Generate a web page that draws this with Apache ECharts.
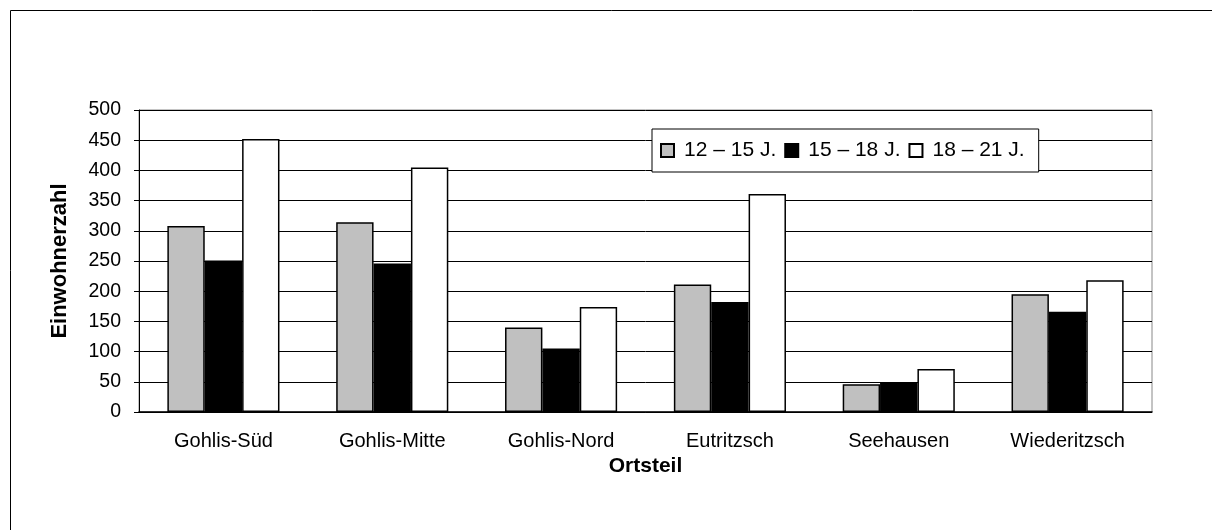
<!DOCTYPE html>
<html>
<head>
<meta charset="utf-8">
<script src="https://cdn.jsdelivr.net/npm/echarts@6/dist/echarts.min.js"></script>
<style>
  html, body { margin: 0; padding: 0; background: #fff; }
  #chart { width: 1212px; height: 530px; }
</style>
</head>
<body>
<div id="chart"></div>
<script>
var ortsteile = ['Gohlis-Süd', 'Gohlis-Mitte', 'Gohlis-Nord', 'Eutritzsch', 'Seehausen', 'Wiederitzsch'];
var alter12bis15 = [308, 314, 140, 211, 46, 195];
var alter15bis18 = [251, 246, 105, 182, 48, 166];
var alter18bis21 = [452, 405, 174, 361, 71, 218];
var serienNamen = ['12 – 15 J.', '15 – 18 J.', '18 – 21 J.'];

var chart = echarts.init(document.getElementById('chart'));
var schrift = 'Liberation Sans, Arial, sans-serif';

function balken(name, werte, farbe) {
    return {
        name: name,
        type: 'bar',
        data: werte,
        barGap: '0%',
        barCategoryGap: '33.6%',
        itemStyle: { color: farbe, borderColor: '#000', borderWidth: 1.5 },
        emphasis: { disabled: true }
    };
}

var option = {
    animation: false,
    textStyle: { fontFamily: schrift },
    graphic: [{
        type: 'rect',
        shape: { x: 10.5, y: 10.5, width: 1400, height: 800 },
        style: { fill: 'none', stroke: '#000', lineWidth: 1 },
        silent: true
    }],
    grid: {
        left: 139, top: 110, right: 60, bottom: 118,
        show: true, borderColor: '#888', borderWidth: 1,
        backgroundColor: 'transparent'
    },
    legend: {
        left: 652, top: 129,
        padding: [11, 14, 11, 8],
        itemGap: 8,
        itemWidth: 13, itemHeight: 13,
        icon: 'rect',
        borderColor: '#000', borderWidth: 1,
        backgroundColor: '#fff',
        textStyle: { fontSize: 21, color: '#000', fontFamily: schrift, padding: [0, 0, 0, 5] },
        data: serienNamen
    },
    xAxis: {
        type: 'category',
        data: ortsteile,
        name: 'Ortsteil',
        nameLocation: 'middle',
        nameGap: 39,
        nameTextStyle: { fontSize: 21, fontWeight: 'bold', color: '#000' },
        axisLine: { lineStyle: { color: '#000', width: 1.5 } },
        axisTick: { length: 5, lineStyle: { color: '#000' } },
        axisLabel: { fontSize: 20, color: '#000', margin: 19 }
    },
    yAxis: {
        type: 'value',
        min: 0, max: 500, interval: 50,
        name: 'Einwohnerzahl',
        nameLocation: 'middle',
        nameGap: 68,
        nameTextStyle: { fontSize: 22, fontWeight: 'bold', color: '#000' },
        axisLine: { show: true, lineStyle: { color: '#000', width: 1 } },
        axisTick: { show: true, length: 5, lineStyle: { color: '#000' } },
        axisLabel: { fontSize: 19.5, color: '#000', margin: 18 },
        splitLine: { lineStyle: { color: '#000', width: 1 } }
    },
    series: [
        balken(serienNamen[0], alter12bis15, '#c0c0c0'),
        balken(serienNamen[1], alter15bis18, '#000000'),
        balken(serienNamen[2], alter18bis21, '#ffffff')
    ]
};

chart.setOption(option);
window.onresize = function () { chart.resize(); };
</script>
</body>
</html>
